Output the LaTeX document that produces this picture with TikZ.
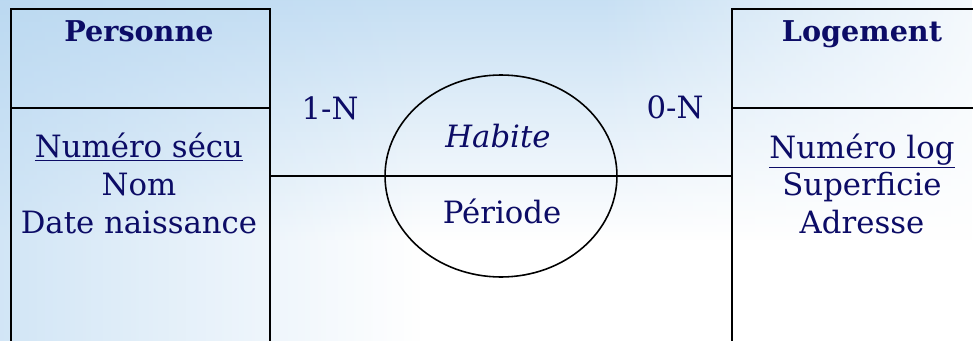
\documentclass[tikz,border=0pt]{standalone}
\usepackage{fontspec}
\setmainfont{DejaVu Serif}
\usetikzlibrary{shapes.geometric,fadings}

\definecolor{navy}{RGB}{12,12,102}
\definecolor{sky}{RGB}{180,213,240}

\begin{document}
\begin{tikzpicture}[x=0.02cm, y=-0.02cm,
    txt/.style={text=navy, font=\fontsize{17.5}{21}\selectfont, inner sep=0pt, anchor=base},
    titre/.style={txt, font=\fontsize{16.3}{20}\selectfont\bfseries},
    ent/.style={draw, line width=0.9pt, minimum width=5.18cm, minimum height=7cm, anchor=north west, inner sep=0pt},
    rel/.style={draw, line width=0.9pt, ellipse, minimum width=4.64cm, minimum height=4.04cm, inner sep=0pt}]
	\useasboundingbox (0,0) rectangle (973,341);
	\clip (0,0) rectangle (973,341);
	
	% fond
	\fill[white] (0,0) rectangle (973,341);
	\fill[sky, path fading=south, fill opacity=0.8] (0,-20) rectangle (973,240);
	\fill[sky, path fading=east, fill opacity=0.6] (0,0) rectangle (420,341);
	\fill[white, path fading=west, fill opacity=0.8] (600,0) rectangle (973,341);
	
	\def\yH{108}
	\def\yL{176}
	
	% entites
	\node[ent] (pers) at (10,8) {};
	\node[ent] (loge) at (731,8) {};
	\draw[line width=0.9pt] (pers.west |- 0,\yH) -- (pers.east |- 0,\yH);
	\draw[line width=0.9pt] (loge.west |- 0,\yH) -- (loge.east |- 0,\yH);
	
	% association
	\node[rel] (hab) at (501,\yL) {};
	\draw[line width=0.9pt] (pers.east |- hab) -- (loge.west |- hab);
	
	% textes
	\node[titre] (persT) at (139,42) {Personne};
	\node[txt] (persA) at (139,157) {\underline{Numéro sécu}};
	\node[txt] (persB) at (139,195) {Nom};
	\node[txt] (persC) at (139,233) {Date naissance};
	
	\node[titre] (logeT) at (862,42) {Logement};
	\node[txt] (logeA) at (862,158) {\underline{Numéro log}};
	\node[txt] (logeB) at (862,195) {Superficie};
	\node[txt] (logeC) at (862,233) {Adresse};
	
	\node[txt] (habT) at (498,147) {\textit{Habite}};
	\node[txt] (habA) at (502,223) {Période};
	
	\node[txt] (cardP) at (330,119) {1-N};
	\node[txt] (cardL) at (675,118) {0-N};
\end{tikzpicture}
\end{document}
